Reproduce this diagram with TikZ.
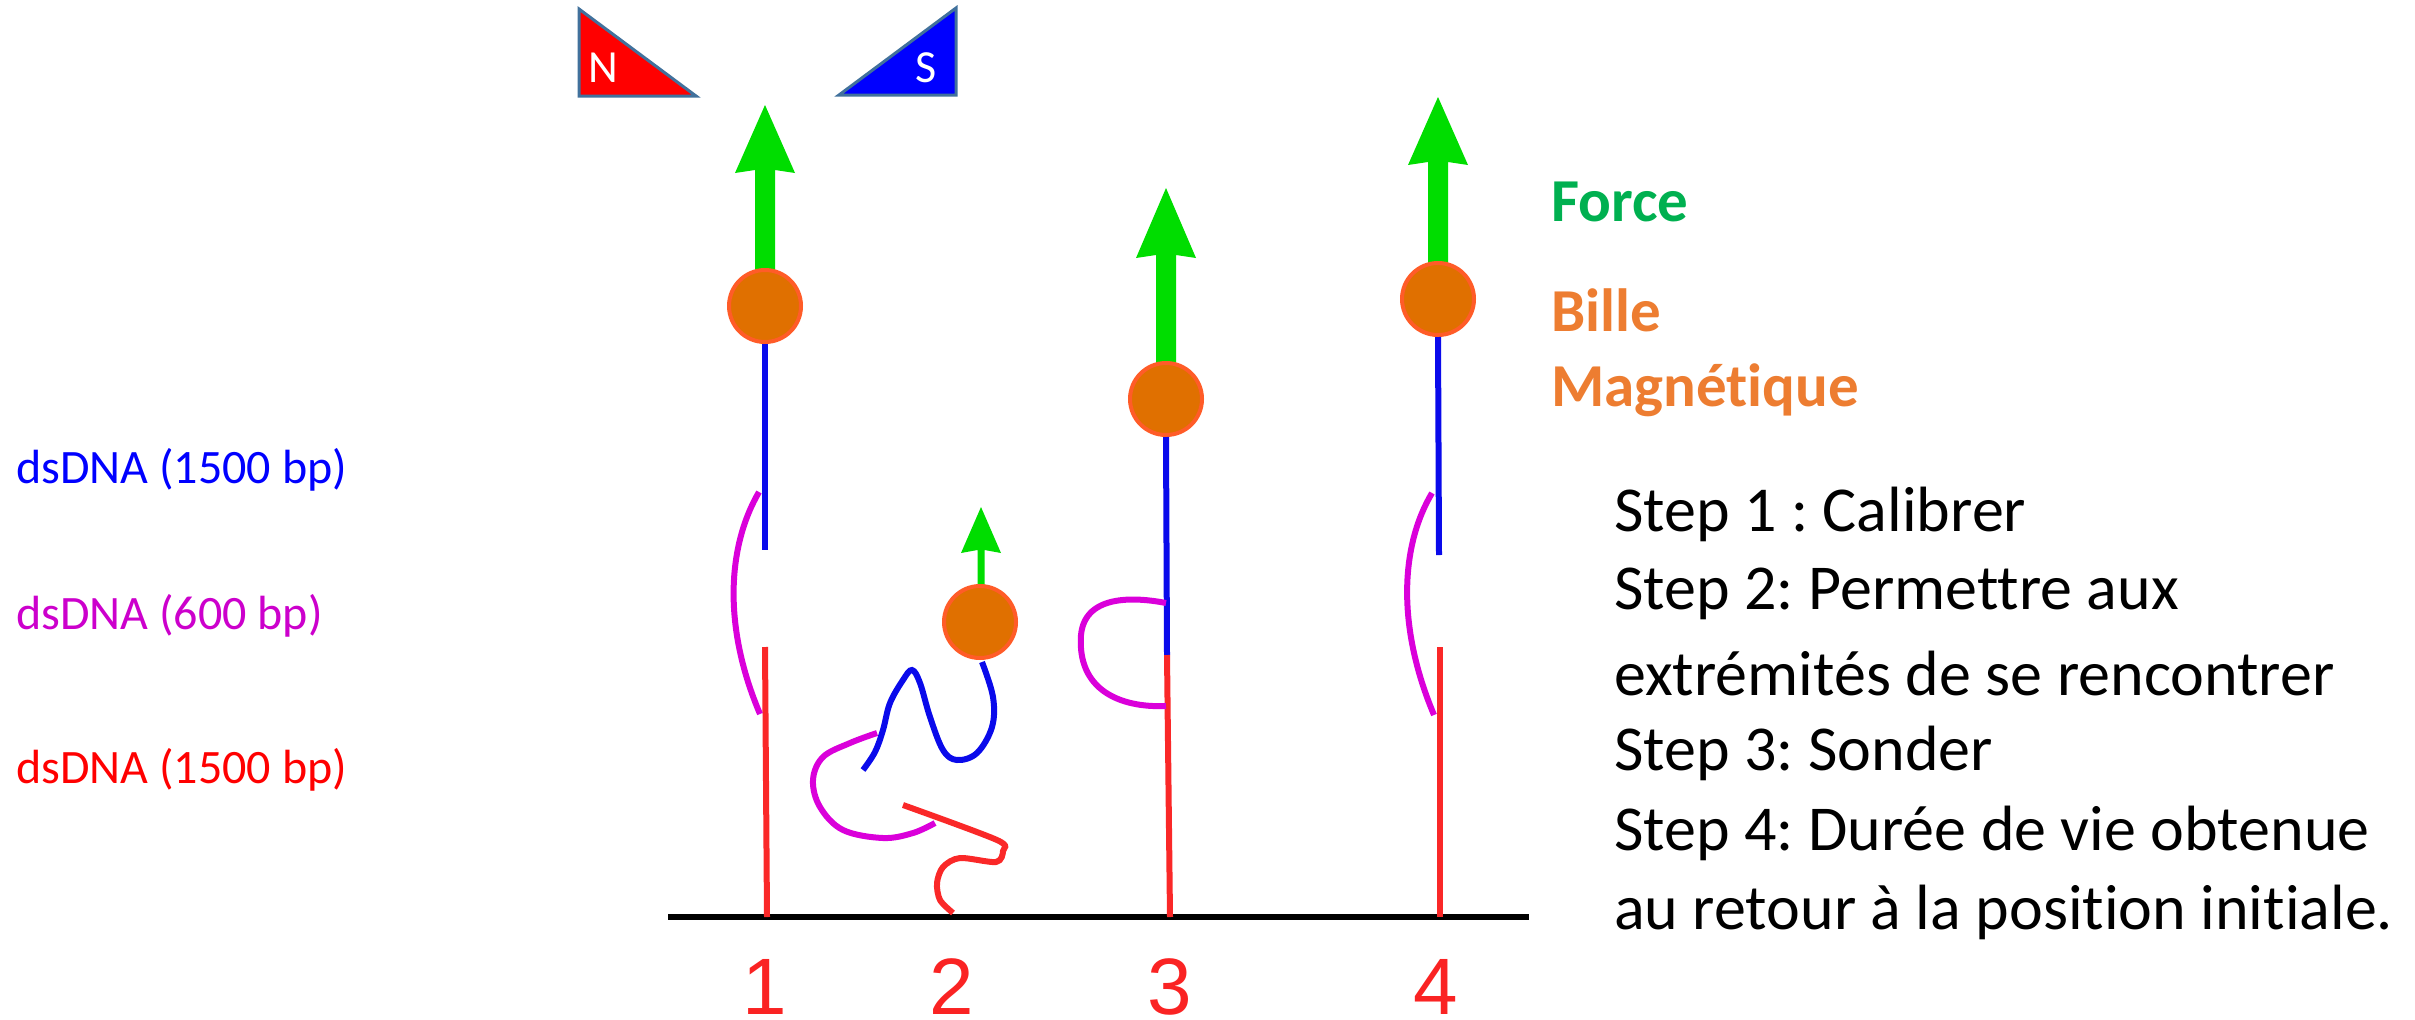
\documentclass[tikz,border=0pt]{standalone}
\usepackage{fontspec}
\setmainfont{Carlito}[RawFeature=-liga]
\newfontfamily\digitfont{Liberation Sans}
\frenchspacing
\definecolor{dnablue}{RGB}{10,10,235}
\definecolor{dnamag}{RGB}{218,0,218}
\definecolor{dnared}{RGB}{250,40,40}
\definecolor{lblblue}{RGB}{0,0,255}
\definecolor{lblmag}{RGB}{204,0,204}
\definecolor{lblred}{RGB}{255,0,0}
\definecolor{forcegreen}{RGB}{0,221,0}
\definecolor{forcetext}{RGB}{0,176,80}
\definecolor{beadtext}{RGB}{237,125,49}
\definecolor{beadfill}{RGB}{224,112,0}
\definecolor{beadedge}{RGB}{255,92,40}
\definecolor{magedge}{RGB}{65,113,156}
\definecolor{numred}{RGB}{250,35,35}

% force arrow: x, tip y, head base y, shaft bottom y, half shaft width, half head width
\newcommand{\forcearrow}[6]{%
  \fill[forcegreen] (#1-#5,#4) -- (#1-#5,#3) -- (#1-#6,#3+3) -- (#1,#2)
    -- (#1+#6,#3+3) -- (#1+#5,#3) -- (#1+#5,#4) -- cycle;}

\begin{document}
\begin{tikzpicture}[x=1pt,y=-1pt,
  dna/.style={line width=6pt,line cap=butt},
  bluestrand/.style={dna,draw=dnablue},
  magstrand/.style={dna,draw=dnamag},
  redstrand/.style={dna,draw=dnared},
  bead/.style={circle,minimum size=72pt,inner sep=0pt,fill=beadfill,draw=beadedge,line width=4pt},
  magnet/.style={draw=magedge,line width=3pt,line join=miter},
  polelabel/.style={text=white,inner sep=0pt,font=\fontsize{46}{52}\selectfont},
  dnalabel/.style={anchor=west,inner sep=0pt,font=\fontsize{48}{56}\selectfont},
  steplabel/.style={anchor=west,inner sep=0pt,font=\fontsize{64}{80}\selectfont},
  keylabel/.style={anchor=west,inner sep=0pt,font=\bfseries\fontsize{61}{72}\selectfont},
  poslabel/.style={inner sep=0pt,text=numred,font=\digitfont\fontsize{80}{90}\selectfont}]
\useasboundingbox (0,0) rectangle (2415,1020);

% magnets
\filldraw[magnet,fill=red] (579,9) -- (579,96) -- (696,96) -- cycle;
\filldraw[magnet,fill=blue] (956,8) -- (956,95) -- (839,95) -- cycle;
\node[polelabel] (north) at (603,68) {N};
\node[polelabel] (south) at (926,68) {S};

% surface
\draw[line width=6.5pt] (668,917) coordinate (s0) -- (1529,917) coordinate (s1);

% force arrows (drawn below the beads)
\forcearrow{765}{105}{170}{290}{10}{30}
\forcearrow{981}{507}{550}{600}{3.5}{20}
\forcearrow{1166}{188}{255}{380}{10}{30}
\forcearrow{1438}{97}{162}{280}{10}{30}

% 1: stretched tether, gap bridged by the 600 bp piece
\node[bead] (b1) at (765,306) {};
\coordinate (u1) at (765,550);
\coordinate (l1) at (765,647);
\coordinate (g1) at (767,917);
\draw[bluestrand] (b1.south) -- (u1);
\draw[redstrand] (l1) -- (g1);
\draw[magstrand] (759,492) .. controls (728,545) and (722,625) .. (760,714);

% 2: relaxed, coiled tether
\node[bead] (b2) at (980,622) {};
\draw[bluestrand] plot[smooth,tension=0.6] coordinates {(982,662) (993,697) (992,727) (977,753) (957,760) (943,750) (930,717) (920,683) (912,670) (903,680) (890,703) (883,730) (875,752) (863,770)};
\draw[magstrand] plot[smooth,tension=0.6] coordinates {(877,733) (850,743) (823,757) (813,780) (820,807) (843,830) (883,838) (913,833) (935,823)};
\draw[redstrand] plot[smooth,tension=0.5] coordinates {(903,805) (997,840) (1003,851) (996,862) (960,858) (943,867) (937,883) (940,900) (953,913)};

% 3: ends joined, loop on the side
\node[bead] (b3) at (1166,399) {};
\coordinate (u3) at (1167,655);
\coordinate (g3) at (1170,917);
\draw[bluestrand] (b3.south) -- (u3);
\draw[redstrand] (u3) -- (g3);
\draw[magstrand] (1166,603) .. controls (1140,598) and (1085,592) .. (1081,635)
  .. controls (1077,690) and (1120,708) .. (1166,706);

% 4: back to the initial position
\node[bead] (b4) at (1438,299) {};
\coordinate (u4) at (1439,555);
\coordinate (l4) at (1440,647);
\coordinate (g4) at (1440,917);
\draw[bluestrand] (b4.south) -- (u4);
\draw[redstrand] (l4) -- (g4);
\draw[magstrand] (1432,493) .. controls (1401,545) and (1396,625) .. (1434,715);

% position numbers
\node[poslabel] (n1) at (765,987) {1};
\node[poslabel] (n2) at (952,987) {2};
\node[poslabel] (n3) at (1170,987) {3};
\node[poslabel] (n4) at (1436,987) {4};

% strand labels
\node[dnalabel,text=lblblue] (lb) at (16,470) {dsDNA (1500 bp)};
\node[dnalabel,text=lblmag] (lm) at (16,616) {dsDNA (600 bp)};
\node[dnalabel,text=lblred] (lr) at (16,770) {dsDNA (1500 bp)};

% key
\node[keylabel,text=forcetext] (kf) at (1551,202) {Force};
\node[keylabel,text=beadtext] (kb) at (1551,310) {Bille};
\node[keylabel,text=beadtext] (km) at (1551,390) {Magnétique};

% protocol steps
\node[steplabel] (st1) at (1614,514) {Step 1 : Calibrer};
\node[steplabel] (st2) at (1614,594) {Step 2: Permettre aux};
\node[steplabel] (st3) at (1614,674) {extrémités de se rencontrer};
\node[steplabel] (st4) at (1614,753) {Step 3: Sonder};
\node[steplabel] (st5) at (1614,833) {Step 4: Durée de vie obtenue};
\node[steplabel] (st6) at (1614,912) {au retour à la position initiale.};
\end{tikzpicture}
\end{document}
